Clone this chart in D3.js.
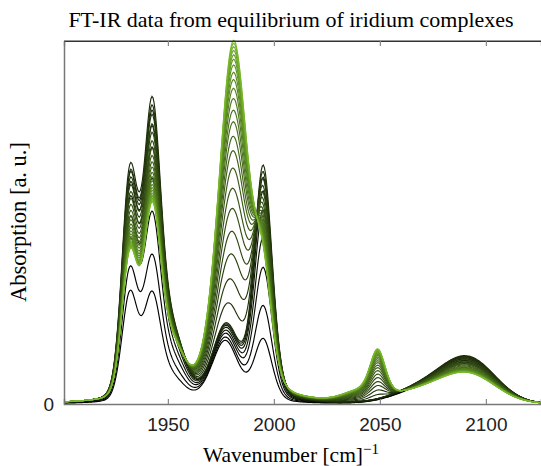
<!DOCTYPE html>
<html><head><meta charset="utf-8">
<script src="https://cdn.jsdelivr.net/npm/d3@7"></script>
<style>body{margin:0;background:#fff}svg{display:block}</style>
</head><body>
<svg id="c" width="541" height="466"></svg>
<script>
// ---- data ----
const title = "FT-IR data from equilibrium of iridium complexes";
const xTicks = [1950, 2000, 2050, 2100];
const yTicks = [0];
// absorption bands (cm^-1)
const bandCenters    = [1932, 1942.5, 1952, 1977, 1981, 1995, 2049, 2040, 2070, 2092];
const bandHalfWidths = [4.4, 4.9, 7, 7.5, 8.3, 5.0, 4.3, 9, 16, 15];
const bandLorentz    = [0.15, 0.2, 0.2, 0.3, 0.3, 0.25, 0.3, 0, 0, 0];
// band amplitudes of the three species (initial, intermediate, final)
const speciesInitial = [0.29, 0.28, 0.06, 0.17, 0.0, 0.17, 0.0, 0.0, 0.035, 0.1];
const speciesMiddle  = [0.60, 0.77, 0.17, 0.18, 0.03, 0.64, 0.0, 0.0, 0.04, 0.12];
const speciesFinal   = [0.38, 0.49, 0.13, 0.0, 0.99, 0.26, 0.125, 0.025, 0.03, 0.076];
// per-spectrum progress of the two equilibria
const stage1 = [0, 0.19, 0.41, 0.58, 0.74, 0.85, 0.93, 1, 1, 1, 1, 1, 1, 1, 1, 1, 1, 1, 1, 1, 1, 1, 1, 1, 1, 1, 1, 1, 1, 1];
const stage2 = [0, 0, 0, 0, 0, 0, 0, 0, 0.08, 0.17, 0.26, 0.34, 0.42, 0.49, 0.56, 0.62, 0.67, 0.72, 0.76, 0.8, 0.835, 0.865, 0.89, 0.915, 0.935, 0.95, 0.965, 0.978, 0.99, 1.0];

// ---- chart ----
const svg = d3.select("#c");
const W = 541, H = 466;
const m = {l: 64, t: 41, r: 0, b: 62};
const x = d3.scaleLinear().domain([1901, 2126]).range([m.l, W - m.r]);
const y = d3.scaleLinear().domain([0, 1]).range([H - m.b, m.t]);

function band(k, nu) {
  const w = bandHalfWidths[k], d = nu - bandCenters[k];
  const g = Math.exp(-Math.LN2 * d * d / (w * w));
  const l = 1 / (1 + d * d / (w * w));
  return bandLorentz[k] * l + (1 - bandLorentz[k]) * g;
}
const grid = d3.range(1901, 2126.01, 0.5);
const spectra = stage1.map((f, i) => {
  const g = stage2[i];
  const amps = bandCenters.map((_, k) =>
    (1 - g) * ((1 - f) * speciesInitial[k] + f * speciesMiddle[k]) + g * speciesFinal[k]);
  return grid.map(nu => [nu, d3.sum(amps, (a, k) => a * band(k, nu))]);
});
const color = d3.interpolateRgb("#000000", "#78b82c");

svg.append("clipPath").attr("id", "clip").append("rect")
  .attr("x", m.l).attr("y", m.t - 2).attr("width", W - m.l).attr("height", H - m.b - m.t + 4);

const line = d3.line().x(d => x(d[0])).y(d => y(d[1]));
svg.append("g").attr("clip-path", "url(#clip)")
  .selectAll("path").data(spectra).join("path")
  .attr("d", line).attr("fill", "none")
  .attr("stroke", (d, i) => color(i / (spectra.length - 1)))
  .attr("stroke-width", 1.15);

// frame
svg.append("line").attr("x1", m.l).attr("x2", W).attr("y1", m.t).attr("y2", m.t)
  .attr("stroke", "#333").attr("stroke-width", 1.2);
const xb = svg.append("g").attr("transform", `translate(0,${H - m.b})`)
  .call(d3.axisBottom(x).tickValues(xTicks).tickSize(-5).tickPadding(14).tickFormat(d3.format("d")));
const xt = svg.append("g").attr("transform", `translate(0,${m.t})`)
  .call(d3.axisTop(x).tickValues(xTicks).tickSize(-5).tickFormat(""));
const yl = svg.append("g").attr("transform", `translate(${m.l},0)`)
  .call(d3.axisLeft(y).tickValues(yTicks).tickSize(0).tickPadding(10).tickFormat(d3.format("d")));
[xb, xt, yl].forEach(g => {
  g.select(".domain").attr("stroke", "#777").attr("stroke-width", 1.5);
  g.selectAll(".tick line").attr("stroke", "#888").attr("stroke-width", 1.2);
  g.selectAll("text").attr("font-family", "Liberation Sans, Arial, sans-serif")
    .attr("font-size", 19).attr("fill", "#222");
});
xt.select(".domain").attr("stroke", "#333").attr("stroke-width", 1.2);

svg.append("text").attr("x", 291).attr("y", 27).attr("text-anchor", "middle")
  .attr("font-family", "Liberation Serif, Times New Roman, serif").attr("font-size", 22)
  .text(title);
const xl = svg.append("text").attr("x", 291).attr("y", 462).attr("text-anchor", "middle")
  .attr("font-family", "Liberation Serif, Times New Roman, serif").attr("font-size", 21.5);
xl.append("tspan").text("Wavenumber [cm]");
xl.append("tspan").attr("dy", -8).attr("font-size", 15).text("−1");
svg.append("text").attr("transform", "translate(26,222) rotate(-90)").attr("text-anchor", "middle")
  .attr("font-family", "Liberation Serif, Times New Roman, serif").attr("font-size", 22.5)
  .text("Absorption [a. u.]");
</script>
</body></html>
